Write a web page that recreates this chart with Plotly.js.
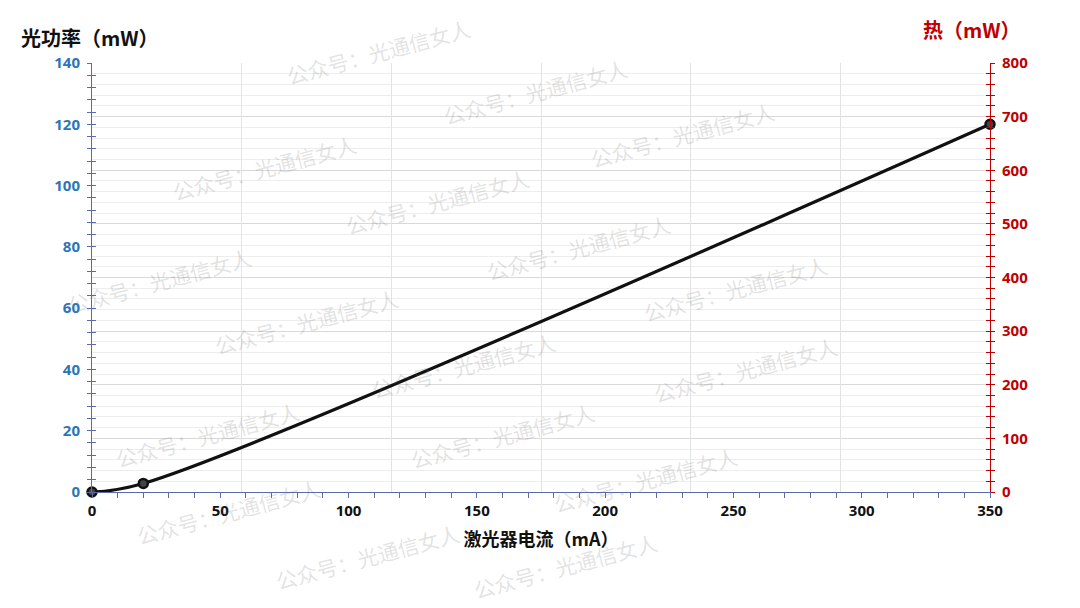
<!DOCTYPE html>
<html>
<head>
<meta charset="utf-8">
<script src="https://cdn.plot.ly/plotly-3.0.1.min.js"></script>
<style>html,body{margin:0;padding:0;background:#fff;}#chart{width:1080px;height:608px;}</style>
</head>
<body>
<div id="chart"></div>
<script>
// ---- data ----
const currentMA = [0, 20, 350];          // 激光器电流 (mA)
const opticalPowerMW = [0, 2.8, 120];    // 光功率 (mW)
const xTitle = '激光器电流（mA）';
const yLeftTitle = '光功率（mW）';
const yRightTitle = '热（mW）';
const watermarkText = '公众号：光通信女人';
// watermark centres (pixel positions on the 1080x608 page)
const watermarkPx = [
  [378,52],[535,92],[682,135],[264,168],[437,202],[578,248],[735,289],
  [159,281],[306,322],[463,366],[745,370],[207,435],[502,436],[228,512],
  [645,480],[367,557],[565,566]
];

const W = 1080, H = 608;
const M = {l: 92, r: 90, t: 63, b: 116};
const pw = W - M.l - M.r, ph = H - M.t - M.b;
const FONT = 'Open Sans, Noto Sans CJK SC, sans-serif';
const CJK = 'Noto Sans CJK SC, sans-serif';

const traces = [
  {
    x: currentMA, y: opticalPowerMW, type: 'scatter', mode: 'lines+markers',
    line: {color: '#111111', width: 3.2, shape: 'spline', smoothing: 1},
    marker: {size: 9, color: '#444444', line: {color: '#111111', width: 2.5}},
    xaxis: 'x', yaxis: 'y', showlegend: false, cliponaxis: false
  },
  // invisible helpers so that helper axes are drawn
  {x: [0], y: [0], type: 'scatter', mode: 'markers', marker: {opacity: 0}, xaxis: 'x', yaxis: 'y2', showlegend: false, hoverinfo: 'skip'},
  {x: [0], y: [0], type: 'scatter', mode: 'markers', marker: {opacity: 0}, xaxis: 'x2', yaxis: 'y3', showlegend: false, hoverinfo: 'skip'},
  {x: [0], y: [0], type: 'scatter', mode: 'markers', marker: {opacity: 0}, xaxis: 'x', yaxis: 'y4', showlegend: false, hoverinfo: 'skip'}
];

const annotations = watermarkPx.map(p => ({
  text: watermarkText, xref: 'paper', yref: 'paper',
  x: (p[0] - M.l) / pw, y: (H - M.b - p[1]) / ph,
  xanchor: 'center', yanchor: 'middle', showarrow: false, textangle: -15,
  font: {family: CJK, size: 21, color: 'rgba(110,110,110,0.2)'}
}));
annotations.push(
  {text: '<b>' + yLeftTitle + '</b>', xref: 'paper', yref: 'paper',
   x: (19 - M.l) / pw, y: (H - M.b - 37) / ph, xanchor: 'left', yanchor: 'middle',
   showarrow: false, font: {family: CJK, size: 20, color: '#111111'}},
  {text: '<b>' + yRightTitle + '</b>', xref: 'paper', yref: 'paper',
   x: (921 - M.l) / pw, y: (H - M.b - 29) / ph, xanchor: 'left', yanchor: 'middle',
   showarrow: false, font: {family: CJK, size: 20, color: '#c00000'}}
);

const layout = {
  width: W, height: H, margin: M,
  paper_bgcolor: '#ffffff', plot_bgcolor: '#ffffff',
  showlegend: false,
  xaxis: {
    range: [0, 350], dtick: 50, tick0: 0, showgrid: false, zeroline: false,
    showline: true, linecolor: '#5b6ba8', linewidth: 1,
    ticks: 'outside', ticklen: 5, tickcolor: '#5b6ba8',
    minor: {dtick: 10, ticks: 'outside', ticklen: 5, tickcolor: '#5b6ba8', showgrid: false},
    tickfont: {family: FONT, size: 15, color: '#111111', weight: 'bold'},
    title: {text: '<b>' + xTitle + '</b>', font: {family: CJK, size: 18, color: '#111111'}, standoff: 14}
  },
  xaxis2: {
    overlaying: 'x', range: [0, 350], dtick: 350 / 6, tick0: 0, showgrid: true,
    gridcolor: '#e3e3e3', gridwidth: 1, showticklabels: false, ticks: '', zeroline: false, showline: false
  },
  yaxis: {
    range: [0, 140], dtick: 20, showgrid: false, zeroline: false,
    showline: true, linecolor: '#5b6ba8', linewidth: 1,
    ticks: 'outside', ticklen: 4, tickcolor: '#5b6ba8',
    minor: {dtick: 4, ticks: 'outside', ticklen: 4, tickcolor: '#5b6ba8', showgrid: false},
    tickfont: {family: FONT, size: 15, color: '#2e75b6', weight: 'bold'},
    ticklabelstandoff: 4
  },
  yaxis4: {
    overlaying: 'y', side: 'left', range: [0, 140], dtick: 20, showgrid: false, zeroline: false,
    showline: false, showticklabels: false,
    ticks: 'inside', ticklen: 4, tickcolor: '#5b6ba8',
    minor: {dtick: 4, ticks: 'inside', ticklen: 4, tickcolor: '#5b6ba8', showgrid: false}
  },
  yaxis2: {
    overlaying: 'y', side: 'right', range: [0, 800], dtick: 100, zeroline: false,
    showgrid: true, gridcolor: '#d9d9d9', gridwidth: 1,
    showline: true, linecolor: '#c00000', linewidth: 1,
    ticks: 'outside', ticklen: 4, tickcolor: '#c00000',
    minor: {dtick: 20, ticks: 'outside', ticklen: 4, tickcolor: '#c00000', showgrid: true, gridcolor: '#ededed'},
    tickfont: {family: FONT, size: 15, color: '#c00000', weight: 'bold'},
    ticklabelstandoff: 4
  },
  yaxis3: {
    overlaying: 'y', side: 'right', range: [0, 800], dtick: 100, zeroline: false,
    showgrid: false, showline: false, showticklabels: false,
    ticks: 'inside', ticklen: 4, tickcolor: '#c00000',
    minor: {dtick: 20, ticks: 'inside', ticklen: 4, tickcolor: '#c00000', showgrid: false}
  },
  annotations: annotations
};

Plotly.newPlot('chart', traces, layout, {displayModeBar: false, staticPlot: true});
</script>
</body>
</html>
